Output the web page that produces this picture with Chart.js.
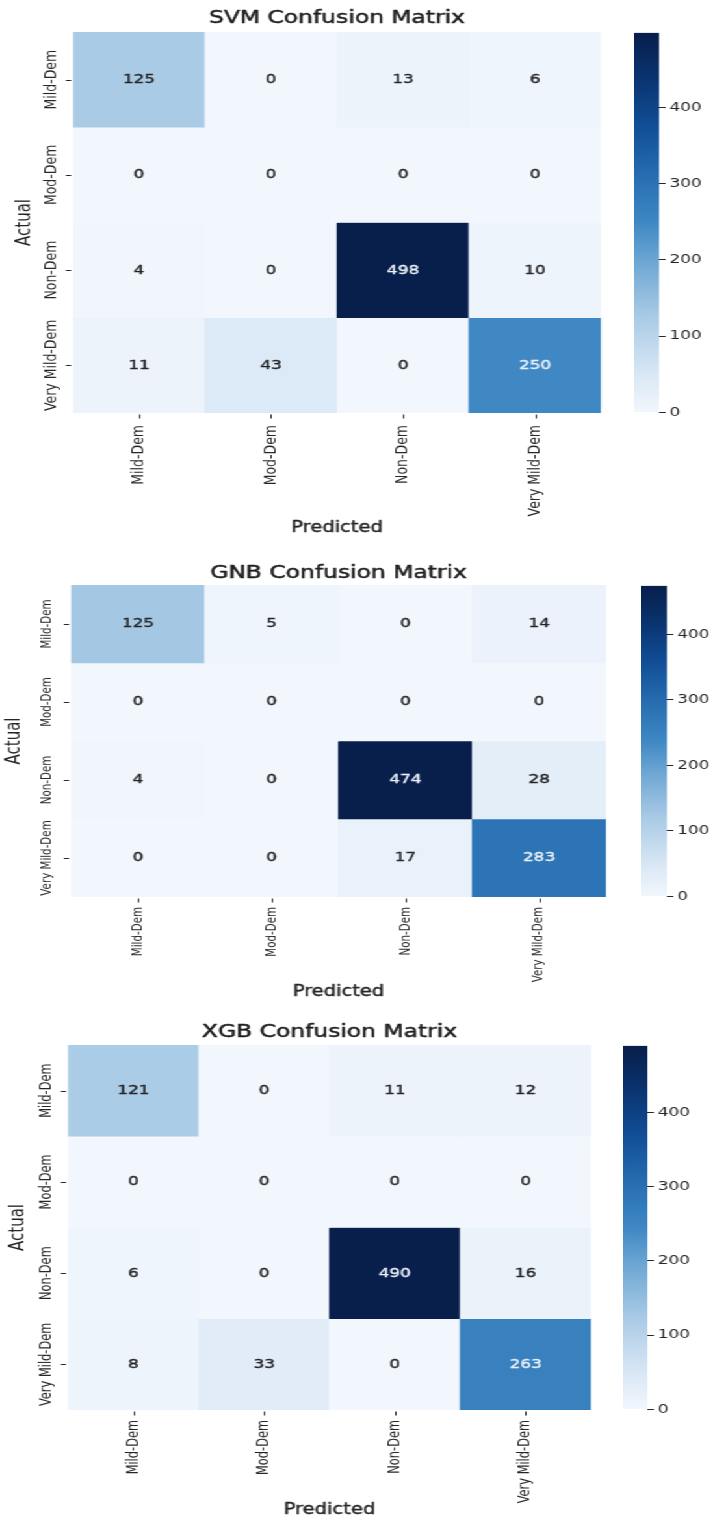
<!DOCTYPE html>
<html>
<head>
<meta charset="utf-8">
<script src="https://cdn.jsdelivr.net/npm/chart.js@4.4.1/dist/chart.umd.min.js"></script>
<style>
  html, body { margin: 0; padding: 0; background: #ffffff; }
  body { width: 715px; height: 1533px; position: relative; overflow: hidden; }
  .panel { position: absolute; left: 0; transform-origin: 0 0; }
  .panel canvas { position: absolute; display: block; }
</style>
</head>
<body>
<script>
// Class names shared by both axes
const classLabels = ['Mild-Dem', 'Mod-Dem', 'Non-Dem', 'Very Mild-Dem'];

// Confusion matrices: rows = actual class, columns = predicted class
const svmMatrix = [
  [125, 0, 13, 6],
  [0, 0, 0, 0],
  [4, 0, 498, 10],
  [11, 43, 0, 250]
];
const gnbMatrix = [
  [125, 5, 0, 14],
  [0, 0, 0, 0],
  [4, 0, 474, 28],
  [0, 0, 17, 283]
];
const xgbMatrix = [
  [121, 0, 11, 12],
  [0, 0, 0, 0],
  [6, 0, 490, 16],
  [8, 33, 0, 263]
];

const modelTitles = ['SVM Confusion Matrix', 'GNB Confusion Matrix', 'XGB Confusion Matrix'];
const modelMatrices = [svmMatrix, gnbMatrix, xgbMatrix];

// Colorbar tick values
const colorbarTicks = [0, 100, 200, 300, 400];

// Blue colour ramp: [position 0..1, colour]
const RAMP = [
  [0.00, '#f2f7fd'],
  [0.10, '#d9e7f5'],
  [0.25, '#aacbe6'],
  [0.40, '#6ca6d3'],
  [0.50, '#3f88c4'],
  [0.60, '#2b73b5'],
  [0.75, '#114f97'],
  [0.88, '#0a3470'],
  [1.00, '#081e4b']
];

function hexToRgb(h) {
  return [parseInt(h.slice(1, 3), 16), parseInt(h.slice(3, 5), 16), parseInt(h.slice(5, 7), 16)];
}
const RAMP_RGB = RAMP.map(([p, c]) => [p, hexToRgb(c)]);

function rampRgb(t) {
  t = Math.max(0, Math.min(1, t));
  for (let i = 0; i < RAMP_RGB.length - 1; i++) {
    const [p0, a] = RAMP_RGB[i], [p1, b] = RAMP_RGB[i + 1];
    if (t <= p1) {
      const f = (t - p0) / (p1 - p0);
      return [0, 1, 2].map(k => Math.round(a[k] + (b[k] - a[k]) * f));
    }
  }
  return RAMP_RGB[RAMP_RGB.length - 1][1];
}
function rgbStr(c) { return 'rgb(' + c[0] + ',' + c[1] + ',' + c[2] + ')'; }

function luminance(c) {
  const lin = c.map(v => {
    v /= 255;
    return v <= 0.03928 ? v / 12.92 : Math.pow((v + 0.055) / 1.055, 2.4);
  });
  return 0.2126 * lin[0] + 0.7152 * lin[1] + 0.0722 * lin[2];
}

const FONT = '"DejaVu Sans", Verdana, sans-serif';
const INK = '#262626';
const SX = 1.3;          // horizontal stretch of the whole figure
const NATIVE_W = 715 / SX;

// Per-panel geometry (x in unstretched units, y in page pixels relative to the panel top)
const layouts = [
  { top: 0,    H: 545, hm: { l: 56.2, r: 462.3, t: 32.0, b: 413.0 }, cb: { l: 487.7, w: 19.2 },
    titleY: 18.0, ytickX: 40.0, actualX: 19.2, predY: 528.0, tickFont: 12.5, xlabGap: 12 },
  { top: 550,  H: 455, hm: { l: 54.6, r: 466.2, t: 35.0, b: 347.0 }, cb: { l: 493.0, w: 20.0 },
    titleY: 23.0, ytickX: 36.0, actualX: 11.5, predY: 442.0, tickFont: 10.3, xlabGap: 10 },
  { top: 1010, H: 523, hm: { l: 52.3, r: 454.6, t: 35.0, b: 400.0 }, cb: { l: 479.2, w: 19.3 },
    titleY: 22.0, ytickX: 36.2, actualX: 13.8, predY: 500.0, tickFont: 11.4, xlabGap: 10 }
];

// Filled text with a hairline outline for a slightly heavier stroke
function heavyText(ctx, s, x, y, w) {
  ctx.fillText(s, x, y);
  ctx.lineWidth = w;
  ctx.strokeStyle = ctx.fillStyle;
  ctx.strokeText(s, x, y);
}

// Draws the annotations, tick marks, tick labels and titles around the heatmap
const heatmapDecor = {
  id: 'heatmapDecor',
  afterDraw(chart, args, opts) {
    const ctx = chart.ctx;
    const xs = chart.scales.x, ys = chart.scales.y;
    const ca = chart.chartArea;
    const m = opts.matrix, vmax = opts.vmax, L = opts.layout;
    ctx.save();
    ctx.lineJoin = 'round';

    // cell values
    ctx.font = '13px ' + FONT;
    ctx.textAlign = 'center';
    ctx.textBaseline = 'middle';
    m.forEach((row, r) => {
      row.forEach((v, c) => {
        const col = rampRgb(v / vmax);
        ctx.fillStyle = luminance(col) > 0.408 ? INK : '#e9eff7';
        heavyText(ctx, String(v), xs.getPixelForValue(c), ys.getPixelForValue(r + 0.5), 0.4);
      });
    });

    // tick marks
    ctx.strokeStyle = INK;
    ctx.lineWidth = 1;
    ctx.beginPath();
    classLabels.forEach((lab, i) => {
      const px = Math.round(xs.getPixelForValue(i)) + 0.5;
      ctx.moveTo(px, ca.bottom + 1.5);
      ctx.lineTo(px, ca.bottom + 5.5);
      const py = Math.round(ys.getPixelForValue(i + 0.5)) + 0.5;
      ctx.moveTo(ca.left - 5.5, py);
      ctx.lineTo(ca.left - 1.5, py);
    });
    ctx.stroke();

    // tick labels, rotated
    ctx.fillStyle = INK;
    ctx.font = L.tickFont + 'px ' + FONT;
    classLabels.forEach((lab, i) => {
      ctx.save();
      ctx.translate(xs.getPixelForValue(i), ca.bottom + L.xlabGap);
      ctx.rotate(-Math.PI / 2);
      ctx.textAlign = 'right';
      ctx.textBaseline = 'middle';
      ctx.fillText(lab, 0, 0);
      ctx.restore();

      ctx.save();
      ctx.translate(L.ytickX, ys.getPixelForValue(i + 0.5));
      ctx.rotate(-Math.PI / 2);
      ctx.textAlign = 'center';
      ctx.textBaseline = 'middle';
      ctx.fillText(lab, 0, 0);
      ctx.restore();
    });

    // axis titles
    const cx = (ca.left + ca.right) / 2;
    ctx.font = '15px ' + FONT;
    ctx.textAlign = 'center';
    ctx.textBaseline = 'middle';
    heavyText(ctx, 'Predicted', cx, L.predY, 0.4);
    ctx.save();
    ctx.translate(L.actualX, (ca.top + ca.bottom) / 2);
    ctx.rotate(-Math.PI / 2);
    ctx.fillText('Actual', 0, 0);
    ctx.restore();

    // panel title
    ctx.font = '18px ' + FONT;
    ctx.fillStyle = '#1e1e1e';
    heavyText(ctx, opts.title, cx, L.titleY, 0.5);

    ctx.restore();
  }
};

modelMatrices.forEach((matrix, p) => {
  const L = layouts[p];
  const vmax = Math.max(...matrix.flat());

  const panel = document.createElement('div');
  panel.className = 'panel';
  panel.style.top = L.top + 'px';
  panel.style.width = NATIVE_W + 'px';
  panel.style.height = L.H + 'px';
  panel.style.transform = 'scaleX(' + SX + ')';
  document.body.appendChild(panel);

  // heatmap
  const hmCanvas = document.createElement('canvas');
  hmCanvas.width = Math.round(NATIVE_W);
  hmCanvas.height = L.H;
  hmCanvas.style.left = '0px';
  hmCanvas.style.top = '0px';
  panel.appendChild(hmCanvas);

  const datasets = matrix.map((row, r) => ({
    label: classLabels[r],
    data: row.map(() => [r, r + 1]),
    backgroundColor: row.map(v => rgbStr(rampRgb(v / vmax))),
    borderWidth: 0,
    borderSkipped: false,
    grouped: false,
    barPercentage: 1,
    categoryPercentage: 1
  }));

  new Chart(hmCanvas, {
    type: 'bar',
    data: { labels: classLabels, datasets },
    options: {
      responsive: false,
      animation: false,
      devicePixelRatio: 1,
      layout: {
        padding: {
          left: L.hm.l,
          top: L.hm.t,
          right: hmCanvas.width - L.hm.r,
          bottom: L.H - L.hm.b
        }
      },
      scales: {
        x: { display: false, offset: true, grid: { display: false } },
        y: { display: false, min: 0, max: 4, reverse: true, grid: { display: false } }
      },
      plugins: {
        legend: { display: false },
        tooltip: { enabled: false },
        heatmapDecor: { matrix, vmax, layout: L, title: modelTitles[p] }
      }
    },
    plugins: [heatmapDecor]
  });

  // colorbar
  const axisW = 46;
  const padV = 10;
  const cbCanvas = document.createElement('canvas');
  cbCanvas.width = Math.round(L.cb.w + axisW);
  cbCanvas.height = Math.round(L.hm.b - L.hm.t + 2 * padV);
  cbCanvas.style.left = L.cb.l + 'px';
  cbCanvas.style.top = (L.hm.t - padV) + 'px';
  panel.appendChild(cbCanvas);

  new Chart(cbCanvas, {
    type: 'bar',
    data: {
      labels: [''],
      datasets: [{
        data: [[0, vmax]],
        backgroundColor: (c) => {
          const ca = c.chart.chartArea;
          if (!ca) return RAMP[4][1];
          const g = c.chart.ctx.createLinearGradient(0, ca.bottom, 0, ca.top);
          RAMP.forEach(([pos, col]) => g.addColorStop(pos, col));
          return g;
        },
        borderWidth: 0,
        borderSkipped: false,
        barPercentage: 1,
        categoryPercentage: 1
      }]
    },
    options: {
      responsive: false,
      animation: false,
      devicePixelRatio: 1,
      layout: { padding: { top: padV, bottom: cbCanvas.height - padV - (L.hm.b - L.hm.t), left: 0, right: 0 } },
      scales: {
        x: { display: false, offset: true },
        y: {
          position: 'right',
          min: 0,
          max: vmax,
          afterBuildTicks: (s) => { s.ticks = colorbarTicks.map(v => ({ value: v })); },
          afterFit: (s) => { s.width = axisW; },
          border: { display: false },
          grid: { drawOnChartArea: false, drawTicks: true, tickLength: 5, color: INK, lineWidth: 1 },
          ticks: { color: INK, padding: 3, font: { family: FONT, size: 13 } }
        }
      },
      plugins: { legend: { display: false }, tooltip: { enabled: false } }
    }
  });
});
</script>
</body>
</html>
